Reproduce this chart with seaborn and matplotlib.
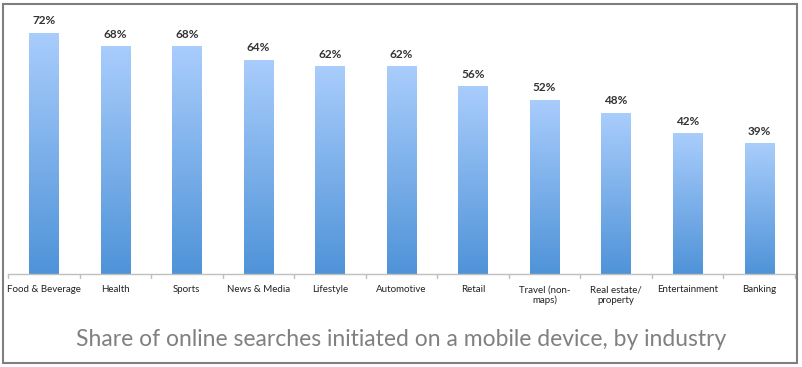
import numpy as np
import pandas as pd
import matplotlib
matplotlib.use("Agg")
import matplotlib.pyplot as plt
import seaborn as sns
from matplotlib.colors import LinearSegmentedColormap
from matplotlib.patches import Rectangle

categories = ["Food & Beverage", "Health", "Sports", "News & Media", "Lifestyle",
              "Automotive", "Retail", "Travel (non-\nmaps)", "Real estate/\nproperty",
              "Entertainment", "Banking"]
values = [72, 68, 68, 64, 62, 62, 56, 52, 48, 42, 39]
title = "Share of online searches initiated on a mobile device, by industry"

df = pd.DataFrame({"industry": categories, "share": values})

sns.set_theme(style="white")
plt.rcParams['font.family'] = ['Lato', 'DejaVu Sans']

fig = plt.figure(figsize=(8.02, 3.67), dpi=100)
W, H = 802, 367
ax = fig.add_axes([8 / W, (H - 274) / H, (795 - 8) / W, (274 - 6) / H])

sns.barplot(data=df, x="industry", y="share", ax=ax, width=0.41,
            color="#6fa8e8", saturation=1, edgecolor="none")

cmap = LinearSegmentedColormap.from_list("g", ["#4f93d8", "#a9cdfc"])
grad = np.linspace(0, 1, 256).reshape(-1, 1)
for p in ax.patches:
    x0, y0 = p.get_x(), p.get_y()
    w, h = p.get_width(), p.get_height()
    im = ax.imshow(grad, cmap=cmap, origin="lower", aspect="auto",
                   extent=[x0, x0 + w, y0, y0 + h], zorder=p.get_zorder() + 0.1)
    im.set_clip_path(p)
    ax.text(x0 + w / 2, h + 2.0, f"{int(h)}%", ha="center", va="bottom",
            fontsize=8.5, fontweight="bold", color="#333333")

ax.set_xlim(-0.5, len(categories) - 0.5)
ax.set_ylim(0, 80)
ax.set_xlabel("")
ax.set_ylabel("")
ax.set_yticks([])
for s in ["top", "right", "left"]:
    ax.spines[s].set_visible(False)
ax.spines["bottom"].set_color("#bfbfbf")
ax.spines["bottom"].set_linewidth(1)

ax.set_xticks(range(len(categories)))
ax.set_xticklabels(categories, fontsize=7, color="#222222", linespacing=1.2)
ax.tick_params(axis="x", length=0, pad=8)
for b in np.arange(-0.5, len(categories) + 0.5, 1):
    ax.plot([b, b], [0, -1.2], color="#bfbfbf", lw=1, clip_on=False)

fig.text(0.5, (H - 339) / H, title, ha="center", va="center",
         fontsize=16.5, color="#808080")

fig.patches.append(Rectangle((3 / W, 4 / H), (797 - 3) / W, (363 - 4) / H,
                             transform=fig.transFigure, fill=False,
                             edgecolor="#7f7f7f", linewidth=1.5))

fig.savefig("out.png", dpi=100)
